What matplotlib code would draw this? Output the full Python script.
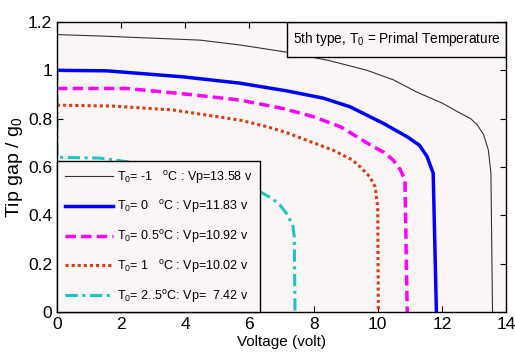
import matplotlib
matplotlib.use("Agg")
import matplotlib.pyplot as plt
from matplotlib.patches import Rectangle

# tip gap vs voltage, one curve per primal temperature
v_m1 = [0, 1.34, 3.0, 4.46, 5.7, 7.17, 8.5, 9.67, 10.5, 11.22, 12.0, 12.57, 12.9, 13.1, 13.3, 13.45, 13.53, 13.58]
g_m1 = [1.148, 1.142, 1.133, 1.125, 1.105, 1.075, 1.04, 1.0, 0.96, 0.91, 0.865, 0.823, 0.80, 0.775, 0.735, 0.67, 0.575, 0.0]

v_0 = [0, 1.55, 3.93, 5.7, 7.16, 8.3, 9.14, 10.17, 10.92, 11.3, 11.54, 11.73, 11.83]
g_0 = [1.0, 0.998, 0.973, 0.947, 0.915, 0.885, 0.849, 0.781, 0.725, 0.69, 0.643, 0.574, 0.0]

v_05 = [0, 2.17, 4.15, 5.7, 7.05, 8.0, 8.83, 9.86, 10.2, 10.48, 10.7, 10.85, 10.92]
g_05 = [0.925, 0.925, 0.900, 0.877, 0.842, 0.808, 0.767, 0.684, 0.66, 0.629, 0.59, 0.546, 0.0]

v_1 = [0, 1.75, 3.62, 5.7, 6.55, 7.16, 8.6, 9.2, 9.45, 9.75, 9.92, 10.0, 10.02]
g_1 = [0.856, 0.852, 0.836, 0.794, 0.767, 0.742, 0.670, 0.63, 0.601, 0.56, 0.518, 0.436, 0.0]

v_25 = [0, 0, 1.34, 2.17, 3.0, 4.0, 5.0, 5.7, 6.23, 6.7, 6.95, 7.2, 7.36, 7.4, 7.42]
g_25 = [1.0, 0.64, 0.637, 0.622, 0.61, 0.59, 0.56, 0.53, 0.505, 0.47, 0.443, 0.40, 0.353, 0.31, 0.0]

labels = [
    r"T$_0$= -1   $^o$C : Vp=13.58 v",
    r"T$_0$= 0   $^o$C : Vp=11.83 v",
    r"T$_0$= 0.5$^o$C : Vp=10.92 v",
    r"T$_0$= 1   $^o$C : Vp=10.02 v",
    r"T$_0$= 2..5$^o$C: Vp=  7.42 v",
]

plt.rcParams["font.family"] = ["Liberation Sans", "DejaVu Sans"]
plt.rcParams["mathtext.fontset"] = "custom"
plt.rcParams["mathtext.rm"] = "Liberation Sans"
plt.rcParams["mathtext.it"] = "Liberation Sans"

fig = plt.figure(figsize=(5.15, 3.6), dpi=100)
ax = fig.add_axes([0.1107, 0.1333, 0.8718, 0.8056])
ax.set_facecolor("#f9f6f5")

ax.plot(v_m1, g_m1, color="#333333", lw=0.8, label=labels[0])
ax.plot(v_0, g_0, color="#0000ff", lw=2.5, label=labels[1])
ax.plot(v_05, g_05, color="#ff00ff", lw=2.5, ls=(0, (3, 1.5)), label=labels[2])
ax.plot(v_1, g_1, color="#e03a10", lw=2.2, ls=(0, (1, 1)), label=labels[3])
ax.plot(v_25, g_25, color="#1fc3c3", lw=2.2, ls=(0, (4, 1.5, 1, 1.5)), label=labels[4])

ax.set_xlim(0, 14)
ax.set_ylim(0, 1.2)
ax.set_xticks(range(0, 15, 2))
ax.set_yticks([0, 0.2, 0.4, 0.6, 0.8, 1.0, 1.2])
ax.set_yticklabels(["0", "0.2", "0.4", "0.6", "0.8", "1", "1.2"])
ax.tick_params(direction="in", top=True, right=True, length=4, width=0.8, labelsize=12.5)
for s in ax.spines.values():
    s.set_linewidth(1.0)
    s.set_zorder(5)

ax.set_xlabel("Voltage (volt)", fontsize=11, labelpad=2)
ax.set_ylabel(r"Tip gap / g$_0$", fontsize=14, labelpad=2)

leg = ax.legend(loc="lower left", borderaxespad=0, fancybox=False, edgecolor="black",
                framealpha=1, facecolor="#f9f6f5", prop={"size": 9.0},
                handlelength=3.9, handletextpad=0.3, labelspacing=1.02, borderpad=0.6)
leg.get_frame().set_linewidth(1.0)

# title box pinned to the top-right corner
ax.add_patch(Rectangle((0.512, 0.879), 0.488, 0.121, transform=ax.transAxes,
                       facecolor="#f9f6f5", edgecolor="black", lw=1.0, zorder=4))
ax.text(0.756, 0.94, r"5th type, T$_0$ = Primal Temperature", transform=ax.transAxes,
        ha="center", va="center", fontsize=9.8, zorder=6)

fig.savefig("out.png", dpi=100)
